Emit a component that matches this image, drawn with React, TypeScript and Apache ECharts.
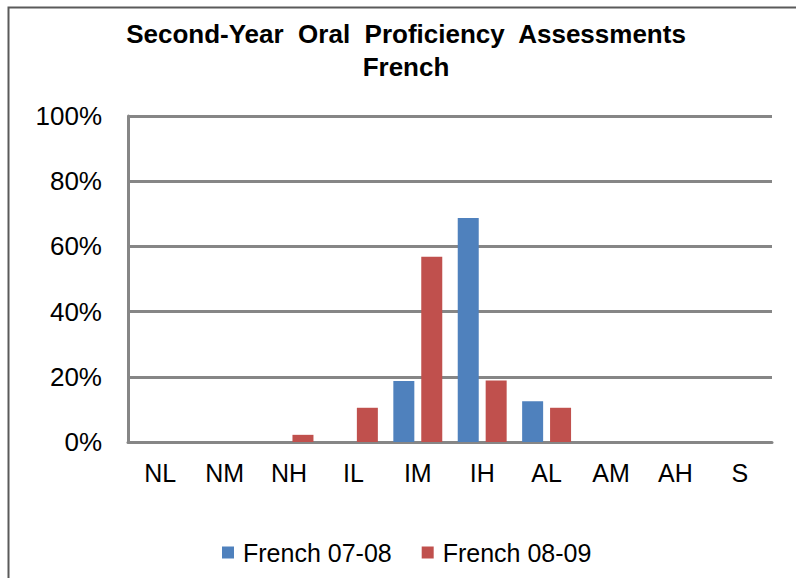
import React, { useEffect, useRef } from "react";
import * as echarts from "echarts";

const categories = ["NL", "NM", "NH", "IL", "IM", "IH", "AL", "AM", "AH", "S"];
const french0708 = [0, 0, 0, 0, 18.75, 68.75, 12.5, 0, 0, 0];
const french0809 = [0, 0, 2.2, 10.5, 56.8, 18.9, 10.5, 0, 0, 0];
const yTicks = [0, 20, 40, 60, 80, 100];

export default function App() {
  const ref = useRef<HTMLDivElement>(null);
  useEffect(() => {
    if (!ref.current) return;
    const chart = echarts.init(ref.current, null, { renderer: "svg" });
    const font = "'Liberation Sans', Arial, Helvetica, sans-serif";
    chart.setOption({
      animation: false,
      backgroundColor: "#ffffff",
      title: {
        text: "Second-Year  Oral  Proficiency  Assessments\nFrench",
        left: 401,
        top: 12,
        textAlign: "center",
        textStyle: {
          fontFamily: font,
          fontSize: 26,
          fontWeight: "bold",
          color: "#000",
          lineHeight: 33,
        },
      },
      grid: { left: 128, right: 24, top: 116, bottom: 136 },
      legend: {
        data: ["French 07-08", "French 08-09"],
        left: 217,
        top: 535,
        icon: "rect",
        itemWidth: 12,
        itemHeight: 12,
        itemGap: 30,
        textStyle: {
          fontFamily: font,
          fontSize: 25,
          color: "#000",
          padding: [0, 0, 0, 4],
        },
      },
      xAxis: {
        type: "category",
        data: categories,
        axisLine: { show: true, lineStyle: { color: "#868686", width: 3 } },
        axisTick: { show: false },
        axisLabel: {
          fontFamily: font,
          fontSize: 25,
          color: "#000",
          margin: 18,
        },
      },
      yAxis: {
        type: "value",
        min: 0,
        max: 100,
        interval: 20,
        axisLine: { show: true, lineStyle: { color: "#868686", width: 3 } },
        axisTick: { show: false },
        splitLine: { lineStyle: { color: "#868686", width: 3 } },
        axisLabel: {
          fontFamily: font,
          fontSize: 26,
          color: "#000",
          margin: 26,
          formatter: (v: number) => (yTicks.includes(v) ? v + "%" : ""),
        },
      },
      series: [
        {
          name: "French 07-08",
          type: "bar",
          data: french0708,
          barWidth: 21,
          barGap: "33%",
          itemStyle: { color: "#4f81bd" },
        },
        {
          name: "French 08-09",
          type: "bar",
          data: french0809,
          barWidth: 21,
          barGap: "33%",
          itemStyle: { color: "#c0504d" },
        },
      ],
      graphic: [
        {
          type: "polyline",
          shape: { points: [[8.5, 578], [8.5, 7.5], [796, 7.5]] },
          style: { stroke: "#5a5a5a", lineWidth: 2, fill: "none" },
        },
      ],
    });
    return () => chart.dispose();
  }, []);
  return (
    <div
      ref={ref}
      style={{ position: "fixed", left: 0, top: 0, width: 796, height: 578 }}
    />
  );
}
